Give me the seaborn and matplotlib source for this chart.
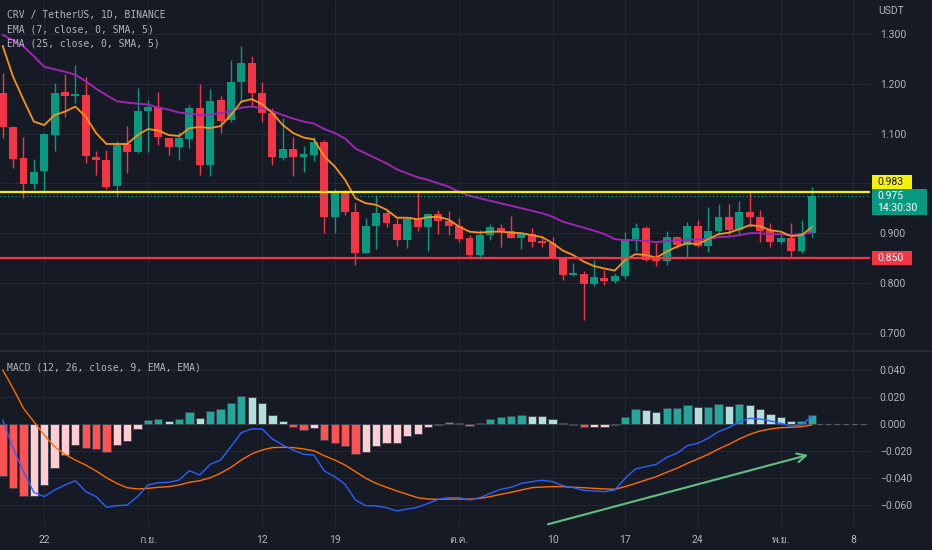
import numpy as np
import pandas as pd
import matplotlib
matplotlib.use("Agg")
import matplotlib.pyplot as plt
from matplotlib.patches import Rectangle
from matplotlib import font_manager
from matplotlib.ft2font import FT2Font
import seaborn as sns

# ---- data (CRV/USDT daily) ----
start = "2023-08-18"
opens = [1.182, 1.114, 1.050, 0.998, 1.024, 1.098, 1.183, 1.176, 1.177, 1.052,
         1.046, 0.994, 1.079, 1.062, 1.146, 1.154, 1.092, 1.072, 1.090, 1.151,
         1.036, 1.168, 1.127, 1.204, 1.242, 1.182, 1.142, 1.050, 1.069, 1.052,
         1.057, 1.082, 0.933, 0.980, 0.942, 0.861, 0.914, 0.941, 0.919, 0.886,
         0.929, 0.913, 0.939, 0.925, 0.914, 0.891, 0.856, 0.896, 0.910, 0.904,
         0.890, 0.898, 0.884, 0.881, 0.850, 0.817, 0.818, 0.798, 0.811, 0.803,
         0.815, 0.888, 0.910, 0.851, 0.845, 0.892, 0.876, 0.915, 0.875, 0.904,
         0.932, 0.906, 0.942, 0.933, 0.906, 0.883, 0.891, 0.864, 0.900]
highs = [1.221, 1.116, 1.093, 1.048, 1.101, 1.201, 1.220, 1.238, 1.213, 1.064,
         1.066, 1.084, 1.115, 1.191, 1.168, 1.183, 1.092, 1.103, 1.157, 1.199,
         1.189, 1.176, 1.248, 1.276, 1.256, 1.204, 1.152, 1.131, 1.093, 1.074,
         1.094, 1.087, 0.988, 0.987, 0.961, 0.930, 0.976, 0.946, 0.930, 0.933,
         0.983, 0.941, 0.947, 0.945, 0.930, 0.896, 0.906, 0.918, 0.918, 0.935,
         0.901, 0.910, 0.890, 0.892, 0.850, 0.840, 0.825, 0.846, 0.826, 0.821,
         0.903, 0.921, 0.914, 0.880, 0.905, 0.894, 0.923, 0.926, 0.953, 0.959,
         0.959, 0.965, 0.982, 0.947, 0.920, 0.901, 0.920, 0.927, 0.992]
lows = [1.091, 1.030, 0.970, 0.988, 0.981, 1.064, 1.134, 1.161, 1.040, 1.017,
        0.988, 0.973, 1.020, 1.060, 1.062, 1.077, 1.057, 1.047, 1.070, 1.017,
        1.014, 1.102, 1.124, 1.164, 1.154, 1.124, 1.037, 1.047, 1.015, 1.022,
        1.044, 0.900, 0.900, 0.937, 0.836, 0.860, 0.868, 0.912, 0.875, 0.871,
        0.904, 0.865, 0.898, 0.896, 0.883, 0.853, 0.848, 0.886, 0.873, 0.890,
        0.868, 0.873, 0.873, 0.850, 0.807, 0.814, 0.726, 0.793, 0.796, 0.799,
        0.808, 0.865, 0.844, 0.835, 0.836, 0.870, 0.850, 0.873, 0.863, 0.897,
        0.897, 0.898, 0.913, 0.883, 0.873, 0.878, 0.850, 0.860, 0.893]
closes = [1.114, 1.048, 0.998, 1.023, 1.099, 1.182, 1.176, 1.179, 1.054, 1.046,
          0.992, 1.077, 1.062, 1.146, 1.153, 1.093, 1.072, 1.091, 1.152, 1.036,
          1.166, 1.126, 1.204, 1.241, 1.182, 1.142, 1.052, 1.069, 1.052, 1.059,
          1.082, 0.933, 0.980, 0.942, 0.861, 0.914, 0.941, 0.920, 0.886, 0.929,
          0.913, 0.939, 0.925, 0.914, 0.889, 0.856, 0.896, 0.912, 0.904, 0.891,
          0.898, 0.883, 0.881, 0.850, 0.817, 0.821, 0.798, 0.813, 0.803, 0.815,
          0.888, 0.910, 0.846, 0.845, 0.892, 0.876, 0.915, 0.875, 0.904, 0.933,
          0.906, 0.942, 0.933, 0.905, 0.883, 0.891, 0.864, 0.900, 0.975]
ema7 = [1.276, 1.214, 1.168, 1.124, 1.117, 1.137, 1.144, 1.154, 1.134, 1.101,
        1.079, 1.079, 1.079, 1.097, 1.109, 1.106, 1.097, 1.095, 1.111, 1.113,
        1.111, 1.115, 1.137, 1.164, 1.169, 1.159, 1.141, 1.117, 1.101, 1.092,
        1.088, 1.054, 1.034, 1.007, 0.970, 0.960, 0.957, 0.947, 0.931, 0.931,
        0.928, 0.932, 0.933, 0.927, 0.913, 0.903, 0.901, 0.903, 0.903, 0.901,
        0.900, 0.896, 0.892, 0.880, 0.865, 0.856, 0.843, 0.834, 0.829, 0.825,
        0.846, 0.858, 0.856, 0.851, 0.863, 0.873, 0.880, 0.878, 0.888, 0.898,
        0.901, 0.908, 0.916, 0.914, 0.906, 0.903, 0.894, 0.896, 0.912]
ema25 = [1.298, 1.287, 1.275, 1.255, 1.234, 1.229, 1.224, 1.218, 1.205, 1.190,
         1.177, 1.165, 1.162, 1.160, 1.158, 1.152, 1.148, 1.142, 1.140, 1.137,
         1.138, 1.141, 1.145, 1.152, 1.154, 1.151, 1.145, 1.137, 1.130, 1.124,
         1.120, 1.109, 1.101, 1.090, 1.070, 1.060, 1.050, 1.040, 1.028, 1.020,
         1.012, 1.007, 1.000, 0.993, 0.983, 0.975, 0.970, 0.965, 0.960, 0.955,
         0.950, 0.945, 0.940, 0.933, 0.923, 0.917, 0.911, 0.905, 0.898, 0.888,
         0.886, 0.886, 0.884, 0.882, 0.884, 0.886, 0.886, 0.888, 0.888, 0.892,
         0.893, 0.896, 0.900, 0.900, 0.898, 0.898, 0.896, 0.898, 0.901]
macd_line = [0.0030, -0.0180, -0.0353, -0.0506, -0.0538, -0.0489, -0.0452, -0.0420, -0.0500, -0.0538,
             -0.0617, -0.0605, -0.0600, -0.0538, -0.0452, -0.0435, -0.0432, -0.0415, -0.0346, -0.0378,
             -0.0299, -0.0267, -0.0168, -0.0064, -0.0037, -0.0037, -0.0111, -0.0156, -0.0193, -0.0225,
             -0.0230, -0.0348, -0.0390, -0.0447, -0.0563, -0.0605, -0.0607, -0.0620, -0.0644, -0.0630,
             -0.0617, -0.0588, -0.0558, -0.0546, -0.0546, -0.0563, -0.0546, -0.0514, -0.0484, -0.0469,
             -0.0440, -0.0427, -0.0417, -0.0427, -0.0457, -0.0472, -0.0492, -0.0496, -0.0501, -0.0489,
             -0.0402, -0.0333, -0.0316, -0.0299, -0.0247, -0.0217, -0.0160, -0.0143, -0.0106, -0.0057,
             -0.0027, 0.0017, 0.0042, 0.0037, 0.0022, 0.0005, -0.0015, -0.0007, 0.0059]
signal_line = [0.0400, 0.0264, 0.0116, 0.0017, -0.0081, -0.0168, -0.0225, -0.0267, -0.0304, -0.0348,
               -0.0398, -0.0440, -0.0472, -0.0481, -0.0477, -0.0469, -0.0464, -0.0452, -0.0432, -0.0420,
               -0.0398, -0.0365, -0.0321, -0.0267, -0.0222, -0.0193, -0.0175, -0.0173, -0.0175, -0.0185,
               -0.0198, -0.0235, -0.0267, -0.0304, -0.0353, -0.0402, -0.0440, -0.0469, -0.0496, -0.0521,
               -0.0546, -0.0556, -0.0558, -0.0556, -0.0556, -0.0556, -0.0551, -0.0538, -0.0521, -0.0506,
               -0.0489, -0.0472, -0.0467, -0.0464, -0.0464, -0.0469, -0.0472, -0.0477, -0.0481, -0.0484,
               -0.0464, -0.0440, -0.0415, -0.0390, -0.0358, -0.0328, -0.0291, -0.0259, -0.0225, -0.0185,
               -0.0151, -0.0111, -0.0077, -0.0052, -0.0037, -0.0027, -0.0025, -0.0020, -0.0007]
macd_hist = [-0.0385, -0.0472, -0.0533, -0.0531, -0.0452, -0.0328, -0.0230, -0.0156, -0.0180, -0.0185,
             -0.0210, -0.0156, -0.0123, -0.0037, 0.0030, 0.0037, 0.0025, 0.0037, 0.0086, 0.0047,
             0.0099, 0.0109, 0.0158, 0.0210, 0.0198, 0.0153, 0.0064, 0.0020, -0.0025, -0.0044,
             -0.0032, -0.0121, -0.0138, -0.0160, -0.0220, -0.0205, -0.0163, -0.0141, -0.0138, -0.0091,
             -0.0072, -0.0025, -0.0007, 0.0015, 0.0010, -0.0012, 0.0010, 0.0037, 0.0052, 0.0057,
             0.0064, 0.0062, 0.0057, 0.0040, 0.0007, -0.0010, -0.0022, -0.0020, -0.0020, -0.0010,
             0.0054, 0.0109, 0.0101, 0.0091, 0.0116, 0.0116, 0.0141, 0.0123, 0.0128, 0.0146,
             0.0136, 0.0146, 0.0138, 0.0111, 0.0072, 0.0052, 0.0020, 0.0020, 0.0067]

tick_dates = ["2023-08-22", "2023-09-01", "2023-09-12", "2023-09-19", "2023-10-01",
              "2023-10-10", "2023-10-17", "2023-10-24", "2023-11-01", "2023-11-08"]
tick_labels = ["22", "ก.ย.", "12", "19", "ต.ค.", "10", "17", "24", "พ.ย.", "8"]
price_ticks = [0.7, 0.8, 0.9, 1.0, 1.1, 1.2, 1.3]
macd_ticks = [-0.06, -0.04, -0.02, 0.0, 0.02, 0.04]
resistance = 0.983
support = 0.850
last_price = 0.975
countdown = "14:30:30"
trend_x = [52.3, 77.9]
trend_y = [-0.0748, -0.0224]

# ---- style ----
BG = "#161a25"
GRID = "#232734"
TXT = "#b2b5be"
UP = "#089981"
DOWN = "#f23645"

sns.set_theme(style="dark", rc={"axes.facecolor": BG, "figure.facecolor": BG,
                                "grid.color": GRID, "axes.edgecolor": BG})


def find_thai_font():
    for f in font_manager.fontManager.ttflist:
        try:
            if 0x0E01 in FT2Font(f.fname).get_charmap():
                return f.name
        except Exception:
            pass
    return None


thai = find_thai_font()
axis_fonts = ["Roboto"] + ([thai] if thai else []) + ["DejaVu Sans"]
mono_fonts = ["DejaVu Sans Mono"]
plt.rcParams["font.family"] = axis_fonts

x = (pd.to_datetime(pd.Series(range(len(closes))), unit="D", origin=start) - pd.Timestamp(start)).dt.days.values
tick_x = [(pd.Timestamp(d) - pd.Timestamp(start)).days for d in tick_dates]
opens, highs, lows, closes = map(np.array, (opens, highs, lows, closes))

W, H = 932, 550
fig = plt.figure(figsize=(W / 100, H / 100), dpi=100)
ax = fig.add_axes([0, 1 - 350 / H, 870 / W, 350 / H])
ax2 = fig.add_axes([0, 1 - 527 / H, 870 / W, 175 / H])

# ---- price panel ----
xmin, xmax = -0.26, 83.6
for a in (ax, ax2):
    a.set_facecolor(BG)
    for s in a.spines.values():
        s.set_visible(False)
    a.set_xticks(tick_x)
    a.grid(True, color=GRID, lw=0.8)
    a.set_axisbelow(True)

up = closes >= opens
cols = np.where(up, UP, DOWN)
ax.vlines(x, lows, highs, colors=cols, lw=1.0, zorder=2)
body_lo = np.minimum(opens, closes)
body_h = np.maximum(np.abs(closes - opens), 0.0015)
ax.bar(x, body_h, bottom=body_lo, width=0.76, color=cols, lw=0, zorder=3)

sns.lineplot(x=x, y=ema25, ax=ax, color="#9c27b0", lw=1.4, zorder=4)
sns.lineplot(x=x, y=ema7, ax=ax, color="#f7931a", lw=1.3, zorder=5)

ax.axhline(resistance, color="#f5f10a", lw=1.6, zorder=6)
ax.axhline(support, color=DOWN, lw=1.6, zorder=6)
ax.axhline(last_price, color=UP, lw=0.9, ls=(0, (1, 2)), zorder=6)

ax.set_xlim(xmin, xmax)
ax.set_ylim(0.6655, 1.368)
ax.set_yticks(price_ticks)
ax.set_yticklabels(["" if abs(t - 1.0) < 1e-9 else f"{t:.3f}" for t in price_ticks])
ax.yaxis.tick_right()
ax.tick_params(axis="y", length=0, pad=7, labelcolor=TXT, labelsize=7.5)
ax.tick_params(axis="x", length=0, labelbottom=False)
ax.set_xlabel("")
ax.set_ylabel("")

# ---- MACD panel ----
hist = np.array(macd_hist)
kinds = []
for i, h in enumerate(hist):
    prev = hist[i - 1] if i else h + 0.001
    if h >= 0:
        kinds.append("grow_pos" if h >= prev else "fall_pos")
    else:
        kinds.append("grow_neg" if h >= prev else "fall_neg")
pal = {"grow_pos": "#26a69a", "fall_pos": "#b2dfdb", "grow_neg": "#ffcdd2", "fall_neg": "#ff5252"}
hdf = pd.DataFrame({"x": x, "hist": hist, "kind": kinds})
sns.barplot(data=hdf, x="x", y="hist", hue="kind", palette=pal, native_scale=True,
            dodge=False, width=0.8, errorbar=None, legend=False, ax=ax2, saturation=1,
            edgecolor="#3c404b", linewidth=0.6, zorder=2)
ax2.plot([x[-1] + 0.5, xmax], [0, 0], ls=(0, (4, 3)), color="#5d606b", lw=0.9, zorder=1)
sns.lineplot(x=x, y=signal_line, ax=ax2, color="#ff6d00", lw=1.0, zorder=4)
sns.lineplot(x=x, y=macd_line, ax=ax2, color="#2962ff", lw=1.0, zorder=5)
ax2.annotate("", xy=(trend_x[1], trend_y[1]), xytext=(trend_x[0], trend_y[0]),
             arrowprops=dict(arrowstyle="->", color="#5fbf82", lw=1.5, mutation_scale=16),
             zorder=6)

ax2.set_xlim(xmin, xmax)
ax2.set_ylim(-0.0763, 0.0533)
ax2.set_yticks(macd_ticks)
ax2.set_yticklabels([f"{t:.3f}".replace("-", "\u2212") for t in macd_ticks])
ax2.yaxis.tick_right()
ax2.tick_params(axis="y", length=0, pad=7, labelcolor=TXT, labelsize=7.5)
ax2.set_xticks(tick_x)
ax2.set_xticklabels(tick_labels)
ax2.tick_params(axis="x", length=0, pad=6, labelcolor=TXT, labelsize=7.5)
ax2.set_xlabel("")
ax2.set_ylabel("")

# separator between panes
fig.add_artist(plt.Line2D([0, 1], [1 - 351 / H, 1 - 351 / H], color="#2a2e39", lw=1.2))

# ---- legends ----
legend_rows = ["CRV / TetherUS, 1D, BINANCE", "EMA (7, close, 0, SMA, 5)", "EMA (25, close, 0, SMA, 5)"]
for k, row in enumerate(legend_rows):
    fig.text(7 / W, 1 - (15 + 14 * k) / H, row, color=TXT, fontsize=7, family=mono_fonts, va="center")
fig.text(7 / W, 1 - 367 / H, "MACD (12, 26, close, 9, EMA, EMA)", color=TXT, fontsize=7,
         family=mono_fonts, va="center")
fig.text(878 / W, 1 - 11 / H, "USDT", color=TXT, fontsize=7.5, va="center")


# ---- price tags on the right scale ----
def tag(val, text, fc, tc, dy, w, h):
    yd = ax.transData.transform((0, val))[1]
    yc = yd + dy
    fig.add_artist(Rectangle((872 / W, (yc - h / 2) / H), w / W, h / H, transform=fig.transFigure,
                             fc=fc, ec="none", zorder=10))
    fig.text(877 / W, yc / H, text, color=tc, fontsize=7.5, va="center", ha="left", zorder=11,
             linespacing=1.25)


tag(resistance, f"{resistance:.3f}", "#f5f10a", "#131722", 9.5, 40, 14)
tag(last_price, f"{last_price:.3f}\n{countdown}", UP, "#ffffff", -6.5, 55, 26)
tag(support, f"{support:.3f}", DOWN, "#ffffff", 0, 40, 14)

fig.savefig("out.png", dpi=100, facecolor=BG)
